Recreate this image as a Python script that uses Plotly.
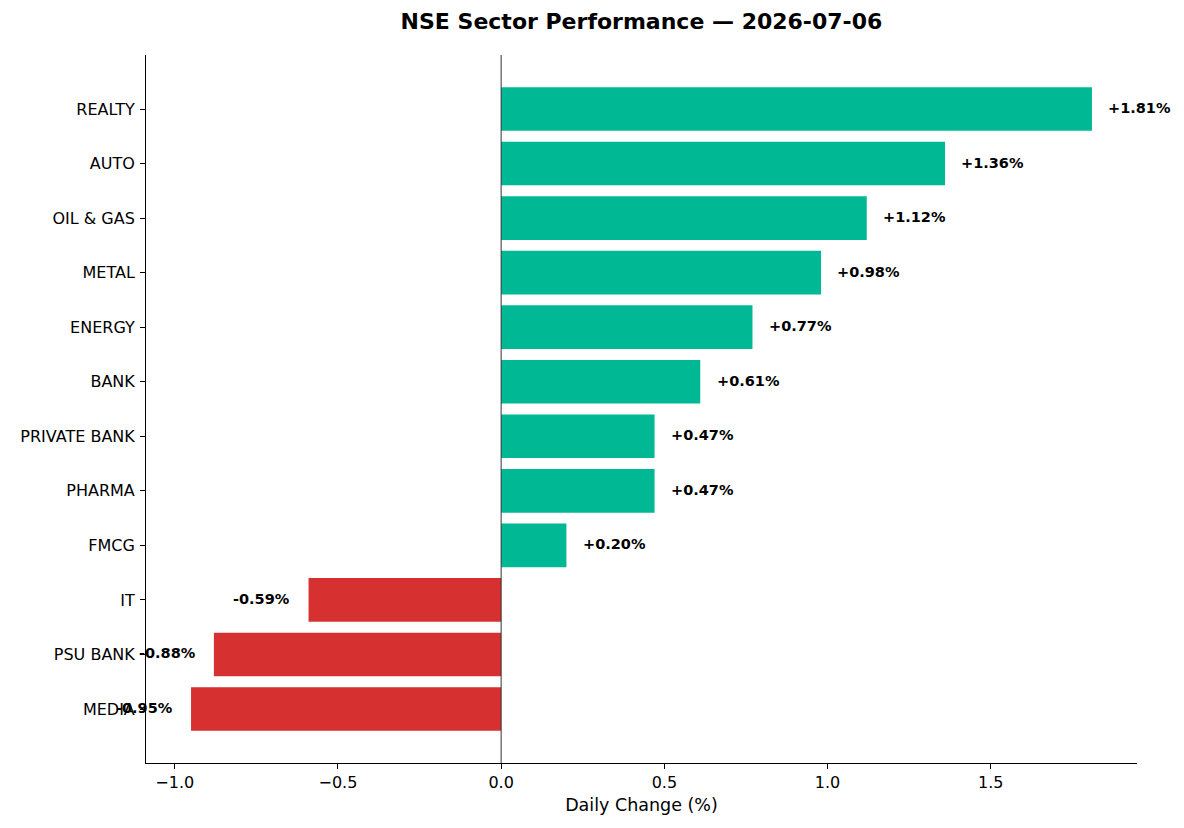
import plotly.graph_objects as go

sectors = ["MEDIA", "PSU BANK", "IT", "FMCG", "PHARMA", "PRIVATE BANK", "BANK",
           "ENERGY", "METAL", "OIL & GAS", "AUTO", "REALTY"]
changes = [-0.95, -0.88, -0.59, 0.20, 0.47, 0.47, 0.61, 0.77, 0.98, 1.12, 1.36, 1.81]
x_ticks = [-1.0, -0.5, 0.0, 0.5, 1.0, 1.5]
x_tick_text = ["\u22121.0", "\u22120.5", "0.0", "0.5", "1.0", "1.5"]

colors = ["#00b894" if v >= 0 else "#d63031" for v in changes]

fig = go.Figure()
fig.add_trace(go.Bar(
    x=changes, y=sectors, orientation="h", width=0.8,
    marker=dict(color=colors, line=dict(width=0)),
    hoverinfo="x+y",
))

for s, v in zip(sectors, changes):
    off = 0.05 if v >= 0 else -0.05
    fig.add_annotation(
        x=v + off, y=s, text=f"{v:+.2f}%", showarrow=False,
        xanchor="left" if v >= 0 else "right", yanchor="middle", yshift=1,
        xshift=-2 if v >= 0 else 0,
        font=dict(family="DejaVu Sans", size=14.5, color="black", weight="bold"),
    )

fig.add_shape(type="line", xref="x", yref="paper", x0=0, x1=0, y0=0, y1=1,
              line=dict(color="#333333", width=1))

fig.update_layout(
    width=1184, height=828,
    margin=dict(l=146, r=47, t=55, b=65),
    paper_bgcolor="white", plot_bgcolor="white",
    font=dict(family="DejaVu Sans", size=16, color="black"),
    title=dict(text="<b>NSE Sector Performance \u2014 2026-07-06</b>",
               x=0.5, xref="paper", xanchor="center", y=0.974, yanchor="middle",
               font=dict(size=22, color="black")),
    showlegend=False,
    bargap=0.2,
)
fig.update_xaxes(
    range=[-1.088, 1.948], tickvals=x_ticks, ticktext=x_tick_text,
    showgrid=False, zeroline=False, showline=True, linecolor="black", linewidth=1,
    ticks="outside", ticklen=5, tickcolor="black", tickfont=dict(size=16),
    title=dict(text="Daily Change (%)", font=dict(size=17.5), standoff=7),
)
fig.update_yaxes(
    categoryorder="array", categoryarray=sectors, range=[-0.99, 11.99],
    showgrid=False, zeroline=False, showline=True, linecolor="black", linewidth=1,
    ticks="outside", ticklen=5, tickcolor="black", tickfont=dict(size=16),
    ticklabelstandoff=2,
)

fig.write_html("out.html")
